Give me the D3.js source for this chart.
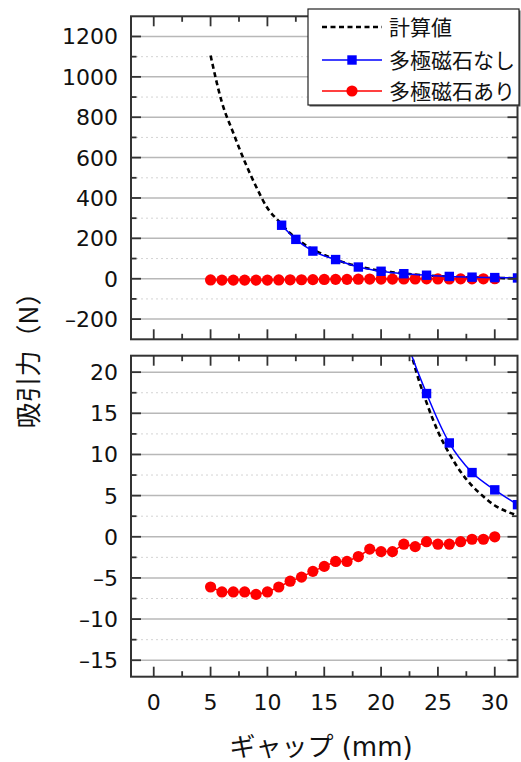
<!DOCTYPE html>
<html>
<head>
<meta charset="utf-8">
<script src="https://cdn.jsdelivr.net/npm/d3@7"></script>
<style>
  body { margin: 0; background: #fff; }
  text { font-family: "DejaVu Sans", "Noto Sans CJK JP", sans-serif; fill: #111; }
</style>
</head>
<body>
<svg width="521" height="762"></svg>
<script>
// 計算値 (dashed)
const gapCalc = [5, 6, 7, 8, 9, 10, 11, 12, 13, 14, 15, 16, 17, 18, 19, 20, 21, 22, 23, 24, 25, 26, 27, 28, 29, 30, 31, 32];
const forceCalc = [1106, 873, 722, 581, 457, 350, 285, 225, 180, 145, 118, 95, 76, 61, 49, 39, 32, 26, 20.5, 16.3, 12.8, 10.1, 7.9, 6.2, 4.9, 3.8, 3.1, 2.6];
// 多極磁石なし (blue squares)
const gapNoMag = [11.25, 12.5, 14, 16, 18, 20, 22, 24, 26, 28, 30, 32];
const forceNoMag = [265, 195, 137, 95, 58, 37, 25, 17.4, 11.4, 7.8, 5.7, 3.9];
// 多極磁石あり (red circles)
const gapMag = [5, 6, 7, 8, 9, 10, 11, 12, 13, 14, 15, 16, 17, 18, 19, 20, 21, 22, 23, 24, 25, 26, 27, 28, 29, 30];
const forceMag = [-6.1, -6.7, -6.7, -6.7, -7.0, -6.7, -6.1, -5.4, -4.9, -4.2, -3.6, -3.0, -3.0, -2.4, -1.5, -1.8, -1.8, -0.9, -1.2, -0.6, -0.9, -0.9, -0.6, -0.3, -0.3, 0.0];

const xTicks = [0, 5, 10, 15, 20, 25, 30];
const topTicks = [-200, 0, 200, 400, 600, 800, 1000, 1200];
const bottomTicks = [-15, -10, -5, 0, 5, 10, 15, 20];

const svg = d3.select("svg");

const calcData = gapCalc.map((g, i) => ({ x: g, y: forceCalc[i] }));
const noMagData = gapNoMag.map((g, i) => ({ x: g, y: forceNoMag[i] }));
const magData = gapMag.map((g, i) => ({ x: g, y: forceMag[i] }));

const left = 131, right = 517.5;
const xScale = d3.scaleLinear().domain([-2, 32]).range([left, right]);

// 負の数はダッシュで表示
const fmt = d => (d < 0 ? "\u2013" + Math.abs(d) : String(d));

const drawPanel = (id, yDomain, top, bottom, ticks, minorStep, showX) => {
  const yScale = d3.scaleLinear().domain(yDomain).range([bottom, top]);
  const g = svg.append("g");

  g.append("clipPath").attr("id", id)
    .append("rect").attr("x", left).attr("y", top)
    .attr("width", right - left).attr("height", bottom - top);

  // minor grid (dotted)
  const minor = ticks.map(t => t + minorStep).filter(t => t < yDomain[1]);
  if (ticks[0] - minorStep > yDomain[0]) minor.unshift(ticks[0] - minorStep);
  g.selectAll(".minor-grid").data(minor).enter().append("line")
    .attr("x1", left).attr("x2", right)
    .attr("y1", d => yScale(d)).attr("y2", d => yScale(d))
    .attr("stroke", "#d4d4d4").attr("stroke-width", 1)
    .attr("stroke-dasharray", "2,3");

  // major grid
  g.selectAll(".major-grid").data(ticks).enter().append("line")
    .attr("x1", left).attr("x2", right)
    .attr("y1", d => yScale(d)).attr("y2", d => yScale(d))
    .attr("stroke", "#b8b8b8").attr("stroke-width", 1.5);

  const plot = g.append("g").attr("clip-path", `url(#${id})`);

  plot.append("path").datum(calcData)
    .attr("d", d3.line().x(d => xScale(d.x)).y(d => yScale(d.y)).curve(d3.curveMonotoneX))
    .attr("fill", "none").attr("stroke", "#000")
    .attr("stroke-width", 2.6).attr("stroke-dasharray", "5,3.5");

  plot.append("path").datum(magData)
    .attr("d", d3.line().x(d => xScale(d.x)).y(d => yScale(d.y)))
    .attr("fill", "none").attr("stroke", "#ff0000").attr("stroke-width", 1.5);
  plot.selectAll(".mag").data(magData).enter().append("circle")
    .attr("cx", d => xScale(d.x)).attr("cy", d => yScale(d.y))
    .attr("r", 5.6).attr("fill", "#ff0000");

  plot.append("path").datum(noMagData)
    .attr("d", d3.line().x(d => xScale(d.x)).y(d => yScale(d.y)).curve(d3.curveMonotoneX))
    .attr("fill", "none").attr("stroke", "#0000ff").attr("stroke-width", 1.5);
  plot.selectAll(".nomag").data(noMagData).enter().append("rect")
    .attr("x", d => xScale(d.x) - 4.7).attr("y", d => yScale(d.y) - 4.7)
    .attr("width", 9.4).attr("height", 9.4).attr("fill", "#0000ff");

  // tick marks pointing inward on all sides
  const xMinor = xTicks.map(t => t + 2.5).filter(t => t < 32);
  const tickAttr = sel => sel.attr("stroke", "#333").attr("stroke-width", 1.8);
  [[xTicks, 10], [xMinor, 5.5]].forEach(([arr, len]) => {
    g.selectAll(null).data(arr).enter().append("line")
      .attr("x1", d => xScale(d)).attr("x2", d => xScale(d))
      .attr("y1", top).attr("y2", top + len).call(tickAttr);
    g.selectAll(null).data(arr).enter().append("line")
      .attr("x1", d => xScale(d)).attr("x2", d => xScale(d))
      .attr("y1", bottom).attr("y2", bottom - len).call(tickAttr);
  });
  [[ticks, 10], [minor, 5.5]].forEach(([arr, len]) => {
    g.selectAll(null).data(arr).enter().append("line")
      .attr("x1", left).attr("x2", left + len)
      .attr("y1", d => yScale(d)).attr("y2", d => yScale(d)).call(tickAttr);
    g.selectAll(null).data(arr).enter().append("line")
      .attr("x1", right).attr("x2", right - len)
      .attr("y1", d => yScale(d)).attr("y2", d => yScale(d)).call(tickAttr);
  });

  // frame
  g.append("rect").attr("x", left).attr("y", top)
    .attr("width", right - left).attr("height", bottom - top)
    .attr("fill", "none").attr("stroke", "#333").attr("stroke-width", 2);

  // y tick labels
  g.selectAll(".ylab").data(ticks).enter().append("text")
    .attr("x", left - 13).attr("y", d => yScale(d))
    .attr("dy", "0.36em").attr("text-anchor", "end")
    .style("font-size", "22px").text(fmt);

  if (showX) {
    g.selectAll(".xlab").data(xTicks).enter().append("text")
      .attr("x", d => xScale(d)).attr("y", bottom + 33)
      .attr("text-anchor", "middle")
      .style("font-size", "22px").text(fmt);
  }
};

drawPanel("clipTop", [-300, 1300], 16.3, 339.3, topTicks, 100, false);
drawPanel("clipBottom", [-17, 22], 355.7, 676.7, bottomTicks, 2.5, true);

// axis titles
svg.append("text")
  .attr("x", 321).attr("y", 756)
  .attr("text-anchor", "middle")
  .style("font-size", "26px").text("ギャップ (mm)");

svg.append("text")
  .attr("transform", "translate(38,354) rotate(-90)")
  .attr("text-anchor", "middle")
  .style("font-family", "'Noto Sans CJK JP', sans-serif")
  .style("font-size", "26px").text("吸引力（N）");

// legend
const legend = svg.append("g");
legend.append("rect").attr("x", 309.5).attr("y", 10.5).attr("width", 211).attr("height", 96).attr("fill", "#555");
legend.append("rect").attr("x", 308).attr("y", 9).attr("width", 211).attr("height", 96)
  .attr("fill", "#fff").attr("stroke", "#222").attr("stroke-width", 1.2);

const legendItems = [
  { label: "計算値", color: "#000", dash: "5,3.5", width: 2.6, marker: null, y: 27 },
  { label: "多極磁石なし", color: "#0000ff", dash: null, width: 1.5, marker: "square", y: 60 },
  { label: "多極磁石あり", color: "#ff0000", dash: null, width: 1.5, marker: "circle", y: 91 }
];
legendItems.forEach(d => {
  legend.append("line").attr("x1", 322).attr("x2", 382).attr("y1", d.y).attr("y2", d.y)
    .attr("stroke", d.color).attr("stroke-width", d.width)
    .attr("stroke-dasharray", d.dash);
  if (d.marker === "square") {
    legend.append("rect").attr("x", 352 - 4.7).attr("y", d.y - 4.7)
      .attr("width", 9.4).attr("height", 9.4).attr("fill", d.color);
  } else if (d.marker === "circle") {
    legend.append("circle").attr("cx", 352).attr("cy", d.y).attr("r", 5.6).attr("fill", d.color);
  }
  legend.append("text").attr("x", 389).attr("y", d.y).attr("dy", "0.36em")
    .style("font-family", "'Noto Sans CJK JP', sans-serif")
    .style("font-size", "21px").text(d.label);
});
</script>
</body>
</html>
